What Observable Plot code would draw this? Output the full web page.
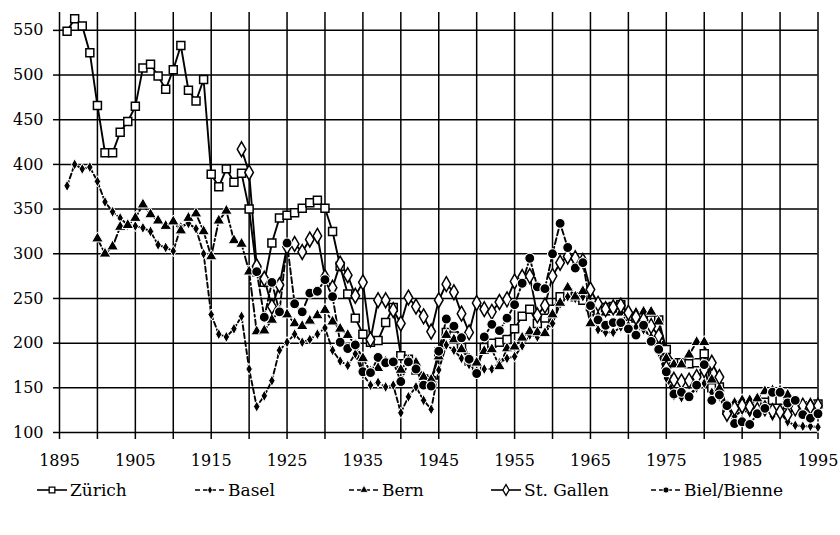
<!DOCTYPE html>
<html><head><meta charset="utf-8">
<script src="https://cdn.jsdelivr.net/npm/d3@7"></script>
<script src="https://cdn.jsdelivr.net/npm/@observablehq/plot@0.6"></script>
<style>
body{margin:0;background:#fff;font-family:"DejaVu Serif","Liberation Serif",serif;}
#wrap{position:relative;width:840px;height:535px;background:#fff;}
#legend{position:absolute;left:0;top:477px;width:840px;height:26px;}
.item{position:absolute;top:0;height:26px;display:flex;align-items:center;font-size:17px;color:#000;white-space:nowrap;}
.item svg{margin-right:2px;}
</style></head><body>
<div id="wrap"><div id="chart"></div><div id="legend"></div></div>
<script>
const xTickLabels = [1895, 1905, 1915, 1925, 1935, 1945, 1955, 1965, 1975, 1985, 1995];
const xGridYears = [1895,1900,1905,1910,1915,1920,1925,1930,1935,1940,1945,1950,1955,1960,1965,1970,1975,1980,1985,1990,1995];
const yTicks = [100, 150, 200, 250, 300, 350, 400, 450, 500, 550];

const zurichStart = 1896;
const zurich = [549,563,555,525,466,413,413,436,448,465,508,512,499,484,506,533,483,471,495,389,
  375,395,380,390,350,280,268,312,340,343,346,351,357,360,351,325,286,255,228,210,
  201,203,223,240,186,182,170,160,158,190,212,208,195,180,172,195,200,201,204,216,
  230,238,222,228,238,252,256,252,248,241,236,240,241,243,230,228,226,226,226,193,
  178,178,177,178,188,150,151,125,129,131,130,132,134,136,136,131,129,128,130,132];

const baselStart = 1896;
const basel = [376,400,395,397,381,358,347,340,332,331,329,325,310,307,303,330,334,328,300,232,
  210,207,216,230,171,129,141,158,192,201,210,201,204,210,217,192,180,175,188,165,
  153,156,151,153,122,140,151,136,126,170,198,192,183,176,169,171,171,178,183,185,
  197,209,207,212,222,244,252,250,252,241,215,212,212,218,220,218,215,207,190,161,
  141,139,140,150,155,145,140,122,118,125,122,125,128,118,122,112,108,107,107,106];

const bernStart = 1900;
const bern = [317,300,308,330,332,340,355,344,337,331,336,326,340,345,325,297,337,348,315,311,
  280,213,214,226,236,232,222,219,225,231,237,224,216,209,198,183,168,172,179,179,
  170,181,178,162,159,185,209,204,193,183,178,191,193,174,194,196,206,213,212,211,
  232,245,262,252,258,222,230,234,237,234,234,234,235,235,224,183,176,176,187,201,
  201,159,149,130,133,136,136,138,146,147,147,142,130,131,133,131];

const gallenStart = 1919;
const gallen = [417,391,286,272,241,265,308,311,302,316,320,274,262,289,276,253,268,204,248,248,
  237,222,251,241,230,213,248,266,257,233,212,245,238,235,246,249,269,274,275,231,
  242,275,290,297,295,292,260,244,238,240,242,234,229,226,219,208,172,159,157,158,
  162,170,178,162,121,127,130,129,125,127,124,123,120,127,130,129,130];

const bielStart = 1921;
const biel = [280,229,268,235,312,244,235,256,258,271,252,201,194,198,168,167,184,178,179,157,
  179,171,153,152,191,227,219,206,182,166,207,221,214,228,243,267,295,263,261,300,
  334,307,284,290,242,226,220,223,223,216,209,220,202,193,168,143,145,140,153,176,
  136,142,130,110,112,109,121,127,145,145,133,136,120,116,121];

const series = [
  {name: "Zürich", start: zurichStart, values: zurich},
  {name: "Basel", start: baselStart, values: basel},
  {name: "Bern", start: bernStart, values: bern},
  {name: "St. Gallen", start: gallenStart, values: gallen},
  {name: "Biel/Bienne", start: bielStart, values: biel}
];
const rows = s => s.values.map((v, i) => ({year: s.start + i, value: v}));
const [dZ, dBa, dBe, dG, dBi] = series.map(rows);

const lw = 1.9;
const chart = Plot.plot({
  width: 840, height: 476,
  marginLeft: 59, marginRight: 22.5, marginTop: 12, marginBottom: 44,
  style: {fontFamily: "'DejaVu Serif','Liberation Serif',serif", fontSize: "16px", color: "#000", background: "#fff", overflow: "visible"},
  x: {domain: [1895, 1995]},
  y: {domain: [100, 570]},
  marks: [
    Plot.ruleX(xGridYears, {stroke: "#000", strokeWidth: 1.5}),
    Plot.ruleY(yTicks, {stroke: "#000", strokeWidth: 1.5}),
    Plot.axisY({ticks: yTicks, tickSize: 6, tickPadding: 10, stroke: "#000", strokeWidth: 1.5, label: null}),
    Plot.axisX({ticks: xGridYears, tickSize: 7, tickPadding: 15, stroke: "#000", strokeWidth: 1.5, label: null,
      tickFormat: d => xTickLabels.includes(d) ? String(d) : ""}),
    Plot.line(dZ, {x: "year", y: "value", stroke: "#000", strokeWidth: lw}),
    Plot.line(dBa, {x: "year", y: "value", stroke: "#000", strokeWidth: lw, strokeDasharray: "5,3"}),
    Plot.line(dBe, {x: "year", y: "value", stroke: "#000", strokeWidth: lw, strokeDasharray: "8,3,2,3"}),
    Plot.line(dG, {x: "year", y: "value", stroke: "#000", strokeWidth: lw}),
    Plot.line(dBi, {x: "year", y: "value", stroke: "#000", strokeWidth: lw, strokeDasharray: "6,3"}),
    Plot.dot(dZ, {x: "year", y: "value", symbol: "square", r: 4.5, fill: "#fff", stroke: "#000", strokeWidth: 1.5}),
    Plot.dot(dBa, {x: "year", y: "value", symbol: "diamond", r: 3.4, fill: "#000", stroke: "#fff", strokeWidth: 1}),
    Plot.dot(dBe, {x: "year", y: "value", symbol: "triangle", r: 4.3, fill: "#000", stroke: "#fff", strokeWidth: 1}),
    Plot.dot(dG, {x: "year", y: "value", symbol: "diamond", r: 4.5, fill: "#fff", stroke: "#000", strokeWidth: 1.5}),
    Plot.dot(dBi, {x: "year", y: "value", symbol: "circle", r: 5, fill: "#000", stroke: "#fff", strokeWidth: 1.1})
  ]
});
document.getElementById("chart").appendChild(chart);

const legendItems = [
  {name: "Zürich", left: 36, sym: "square", open: true, dash: null, r: 3.2},
  {name: "Basel", left: 194, sym: "diamond", open: false, dash: "5,3", r: 2.6},
  {name: "Bern", left: 348, sym: "triangle", open: false, dash: "5,3", r: 3},
  {name: "St. Gallen", left: 490, sym: "diamond", open: true, dash: null, r: 3.3},
  {name: "Biel/Bienne", left: 650, sym: "circle", open: false, dash: "5,3", r: 3}
];
const symMap = {square: d3.symbolSquare, diamond: d3.symbolDiamond, triangle: d3.symbolTriangle, circle: d3.symbolCircle};
const leg = d3.select("#legend");
for (const it of legendItems) {
  const div = leg.append("div").attr("class", "item").style("left", it.left + "px");
  const svg = div.append("svg").attr("width", 32).attr("height", 20);
  svg.append("line").attr("x1", 1).attr("x2", 31).attr("y1", 10).attr("y2", 10)
    .attr("stroke", "#000").attr("stroke-width", 1.6).attr("stroke-dasharray", it.dash);
  svg.append("path").attr("transform", "translate(16,10)")
    .attr("d", d3.symbol(symMap[it.sym], Math.PI * it.r * it.r)())
    .attr("fill", it.open ? "#fff" : "#000").attr("stroke", it.open ? "#000" : "#fff").attr("stroke-width", it.open ? 1.3 : 0.8);
  div.append("span").text(it.name);
}
</script>
</body></html>
